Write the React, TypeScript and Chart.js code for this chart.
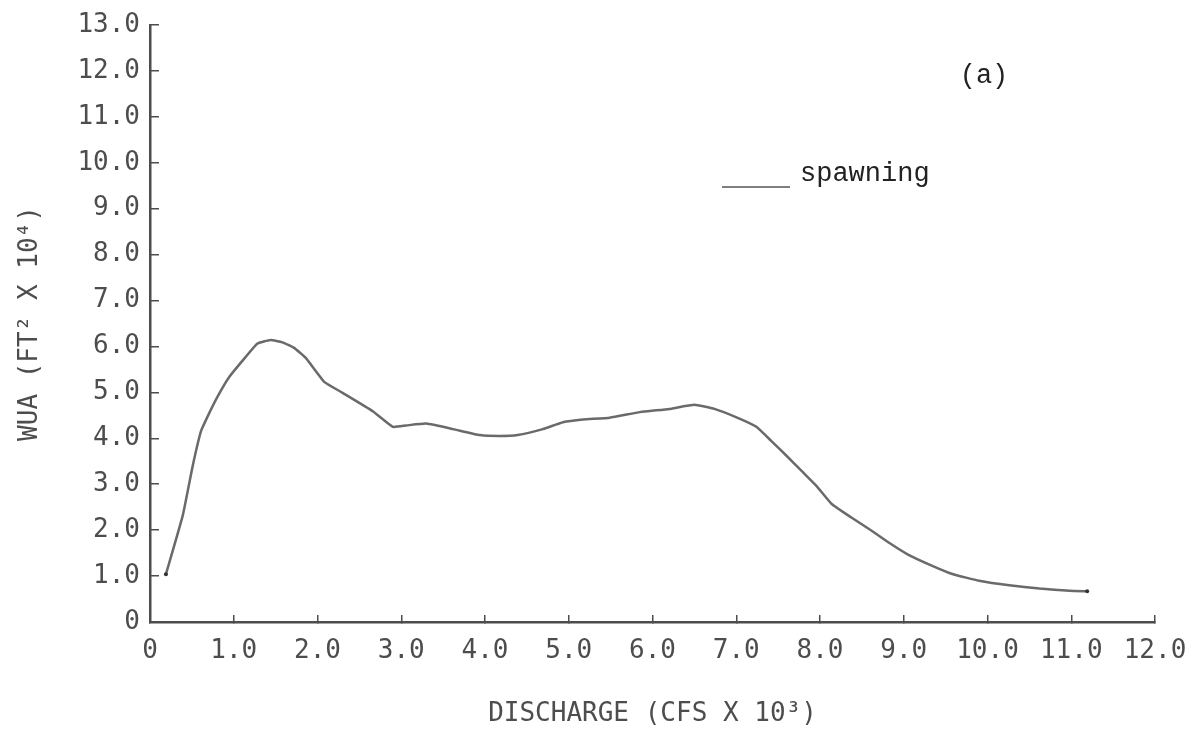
import React, { useEffect, useRef } from "react";
import { Chart, registerables } from "chart.js";

Chart.register(...registerables);

// Discharge (CFS x 10^3)
const discharge = [
  0.19, 0.39, 0.51, 0.61, 0.71, 0.81, 0.94, 1.10, 1.28, 1.44, 1.58, 1.72, 1.86,
  2.08, 2.30, 2.66, 2.90, 3.06, 3.30, 3.62, 3.94, 4.17, 4.39, 4.69, 4.93, 5.17,
  5.49, 5.85, 6.20, 6.50, 6.74, 7.01, 7.24, 7.42, 7.60, 7.78, 7.96, 8.14, 8.37,
  8.59, 8.82, 9.04, 9.32, 9.59, 9.90, 10.26, 10.62, 10.98, 11.19,
];
// WUA (FT^2 x 10^4) - spawning
const wuaSpawning = [
  1.04, 2.31, 3.40, 4.16, 4.56, 4.92, 5.32, 5.68, 6.06, 6.14, 6.09, 5.97, 5.75,
  5.23, 4.99, 4.59, 4.25, 4.28, 4.32, 4.20, 4.07, 4.05, 4.07, 4.20, 4.35, 4.41,
  4.45, 4.57, 4.64, 4.73, 4.64, 4.45, 4.25, 3.94, 3.62, 3.29, 2.96, 2.57, 2.28,
  2.02, 1.73, 1.48, 1.24, 1.04, 0.90, 0.80, 0.73, 0.68, 0.67,
];

const seriesLabel = "spawning";
const panelLabel = "(a)";
const xTitle = "DISCHARGE (CFS X 10\u00B3)";
const yTitle = "WUA (FT\u00B2 X 10\u2074)";
const xMin = 0;
const xMax = 12;
const yMin = 0;
const yMax = 13;

const fmtTick = (v: number) => (v === 0 ? "0" : Number(v).toFixed(1));

const INK = "#4d4d4d";
const PLOT_FONT = "'DejaVu Sans Mono', monospace";
const TYPE_FONT = "'Liberation Mono', 'Courier New', monospace";

const annotationPlugin = {
  id: "annotations",
  afterDraw(chart: any) {
    const ctx = chart.ctx;
    ctx.save();
    // legend entry
    ctx.strokeStyle = "#555";
    ctx.lineWidth = 1.5;
    ctx.beginPath();
    ctx.moveTo(722, 187);
    ctx.lineTo(790, 187);
    ctx.stroke();
    ctx.fillStyle = "#222";
    ctx.font = `27px ${TYPE_FONT}`;
    ctx.textAlign = "left";
    ctx.textBaseline = "alphabetic";
    ctx.fillText(seriesLabel, 800, 181);
    ctx.textAlign = "center";
    ctx.textBaseline = "middle";
    ctx.fillText(panelLabel, 984, 76);
    ctx.restore();
  },
};

export default function App() {
  const canvasRef = useRef<HTMLCanvasElement | null>(null);

  useEffect(() => {
    if (!canvasRef.current) return;
    const points = discharge.map((x, i) => ({ x, y: wuaSpawning[i] }));
    const last = points.length - 1;
    const chart = new Chart(canvasRef.current, {
      type: "line",
      data: {
        datasets: [
          {
            label: seriesLabel,
            data: points,
            borderColor: "#6a6a6a",
            borderWidth: 2.5,
            backgroundColor: "#333",
            pointRadius: (c: any) => (c.dataIndex === 0 || c.dataIndex === last ? 2 : 0),
            pointBorderWidth: 0,
            tension: 0.12,
            fill: false,
          },
        ],
      },
      options: {
        animation: false,
        responsive: false,
        maintainAspectRatio: false,
        layout: { padding: { left: 0, top: 25, right: 39, bottom: 0 } },
        plugins: {
          legend: { display: false },
          tooltip: { enabled: false },
        },
        scales: {
          x: {
            type: "linear",
            min: xMin,
            max: xMax,
            afterFit: (s: any) => {
              s.height = 108;
              s.paddingLeft = 0;
              s.paddingRight = 0;
            },
            border: { display: true, color: INK, width: 2.5 },
            grid: {
              display: true,
              drawOnChartArea: false,
              drawTicks: true,
              tickLength: -7,
              color: INK,
              lineWidth: 1.5,
            },
            ticks: {
              stepSize: 1,
              padding: 21,
              maxRotation: 0,
              autoSkip: false,
              color: INK,
              font: { family: PLOT_FONT, size: 26 },
              callback: (v: any) => fmtTick(Number(v)),
            },
            title: {
              display: true,
              text: xTitle,
              color: INK,
              font: { family: PLOT_FONT, size: 26 },
              padding: { top: 0, bottom: 0 },
            },
          },
          y: {
            type: "linear",
            min: yMin,
            max: yMax,
            afterFit: (s: any) => {
              s.width = 150;
              s.paddingTop = 0;
              s.paddingBottom = 0;
            },
            border: { display: true, color: INK, width: 2.5 },
            grid: {
              display: true,
              drawOnChartArea: false,
              drawTicks: true,
              tickLength: -9,
              color: INK,
              lineWidth: 1.5,
            },
            ticks: {
              stepSize: 1,
              padding: 19,
              autoSkip: false,
              color: INK,
              font: { family: PLOT_FONT, size: 26 },
              callback: (v: any) => fmtTick(Number(v)),
            },
            title: {
              display: true,
              text: yTitle,
              color: INK,
              font: { family: PLOT_FONT, size: 26 },
              padding: { top: 15, bottom: 0 },
            },
          },
        },
      },
      plugins: [annotationPlugin],
    });
    return () => chart.destroy();
  }, []);

  return (
    <div style={{ position: "absolute", left: 0, top: 0, width: 1194, height: 730, background: "#fff" }}>
      <canvas ref={canvasRef} width={1194} height={730} />
    </div>
  );
}
